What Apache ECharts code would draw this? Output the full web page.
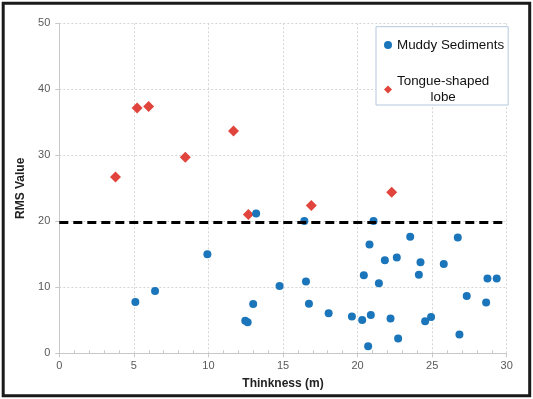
<!DOCTYPE html>
<html>
<head>
<meta charset="utf-8">
<script src="https://cdn.jsdelivr.net/npm/echarts@6/dist/echarts.min.js"></script>
<style>
  html, body { margin: 0; padding: 0; background: #ffffff; }
  #chart { width: 533px; height: 399px; }
</style>
</head>
<body>
<div id="chart"></div>
<script>
// ---- data ----
var muddyX = [5.1, 6.42, 9.93, 12.47, 12.63, 13.0, 13.2, 14.77, 16.43, 16.54, 16.74, 18.06, 19.62, 20.31, 20.42, 20.71, 20.8, 20.89, 21.07, 21.43, 21.83, 22.21, 22.63, 22.72, 23.53, 24.11, 24.22, 24.53, 24.93, 25.78, 26.72, 26.83, 27.32, 28.62, 28.71, 29.33];
var muddyY = [7.77, 9.44, 15.0, 4.94, 4.7, 7.47, 21.2, 10.2, 20.05, 10.87, 7.5, 6.07, 5.56, 5.05, 11.84, 1.07, 16.5, 5.82, 20.05, 10.6, 14.08, 5.26, 14.5, 2.24, 17.65, 11.89, 13.78, 4.85, 5.51, 13.52, 17.55, 2.86, 8.67, 7.7, 11.33, 11.33];
var lobeX = [3.77, 5.22, 5.99, 8.45, 11.68, 12.68, 16.9, 22.29];
var lobeY = [26.7, 37.15, 37.4, 29.7, 33.7, 21.03, 22.4, 24.4];
var thresholdValue = 19.8;
var seriesNames = ['Muddy Sediments', 'Tongue-shaped lobe'];
var xAxisTitle = 'Thinkness (m)';
var yAxisTitle = 'RMS Value';
var xRange = [0, 30, 5];
var yRange = [0, 50, 10];

function pairs(xs, ys) {
  var out = [];
  for (var i = 0; i < xs.length; i++) out.push([xs[i], ys[i]]);
  return out;
}

var FONT = "'Liberation Sans', Arial, sans-serif";
var chart = echarts.init(document.getElementById('chart'), null, { renderer: 'canvas' });

chart.setOption({
  animation: false,
  backgroundColor: '#ffffff',
  textStyle: { fontFamily: FONT },
  grid: { left: 59.3, right: 26.3, top: 23.3, bottom: 45.7, containLabel: false },
  xAxis: {
    type: 'value',
    min: xRange[0], max: xRange[1], interval: xRange[2],
    name: xAxisTitle,
    nameLocation: 'middle',
    nameGap: 24,
    nameTextStyle: { fontFamily: FONT, fontWeight: 'bold', fontSize: 12, color: '#222222' },
    axisLine: { show: true, lineStyle: { color: '#c8c8c8', width: 1 } },
    axisTick: { show: true, length: 4, lineStyle: { color: '#c8c8c8' } },
    minorTick: { show: true, splitNumber: 5, length: -3, lineStyle: { color: '#c8c8c8' } },
    axisLabel: { color: '#595959', fontSize: 11, fontFamily: FONT, margin: 7 },
    splitLine: { show: true, lineStyle: { color: '#d6d6d6', type: [2, 2], width: 1 } }
  },
  yAxis: {
    type: 'value',
    min: yRange[0], max: yRange[1], interval: yRange[2],
    name: yAxisTitle,
    nameLocation: 'middle',
    nameGap: 33,
    nameRotate: 90,
    nameTextStyle: { fontFamily: FONT, fontWeight: 'bold', fontSize: 12, color: '#222222' },
    axisLine: { show: true, lineStyle: { color: '#c8c8c8', width: 1 } },
    axisTick: { show: true, length: 4, lineStyle: { color: '#c8c8c8' } },
    axisLabel: { color: '#595959', fontSize: 11, fontFamily: FONT, margin: 9 },
    splitLine: { show: true, lineStyle: { color: '#d6d6d6', type: [2, 2], width: 1 } }
  },
  legend: {
    orient: 'vertical',
    left: 376,
    top: 26.7,
    padding: [10.5, 4, 0, 8],
    itemGap: 21,
    itemWidth: 8,
    itemHeight: 8,
    borderColor: '#b4c8de',
    borderWidth: 1,
    backgroundColor: '#ffffff',
    data: seriesNames,
    formatter: function (name) {
      if (name === seriesNames[1]) return '{c|Tongue-shaped}\n{c|lobe}';
      return '{c|' + name + '}';
    },
    textStyle: {
      fontFamily: FONT, fontSize: 13.4, color: '#111111', lineHeight: 15.6,
      rich: { c: { align: 'center', fontFamily: FONT, fontSize: 13.4, color: '#111111', lineHeight: 15.6 } }
    }
  },
  graphic: [{
    type: 'rect', silent: true, z: 100,
    shape: { x: 3.2, y: 3.2, width: 526.5, height: 392.5 },
    style: { fill: 'none', stroke: '#1a1a1a', lineWidth: 3 }
  }],
  series: [
    {
      name: seriesNames[0],
      type: 'scatter',
      symbol: 'circle',
      symbolSize: 8,
      itemStyle: { color: '#1b75bb', opacity: 1 },
      data: pairs(muddyX, muddyY),
      z: 3,
      markLine: {
        silent: true,
        symbol: ['none', 'none'],
        label: { show: false },
        z: 5,
        lineStyle: { color: '#000000', width: 3, type: [9, 5], opacity: 1 },
        data: [{ yAxis: thresholdValue }]
      }
    },
    {
      name: seriesNames[1],
      type: 'scatter',
      symbol: 'diamond',
      symbolSize: 11,
      itemStyle: { color: '#e0443c', opacity: 1 },
      data: pairs(lobeX, lobeY),
      z: 2
    }
  ]
});
</script>
</body>
</html>
